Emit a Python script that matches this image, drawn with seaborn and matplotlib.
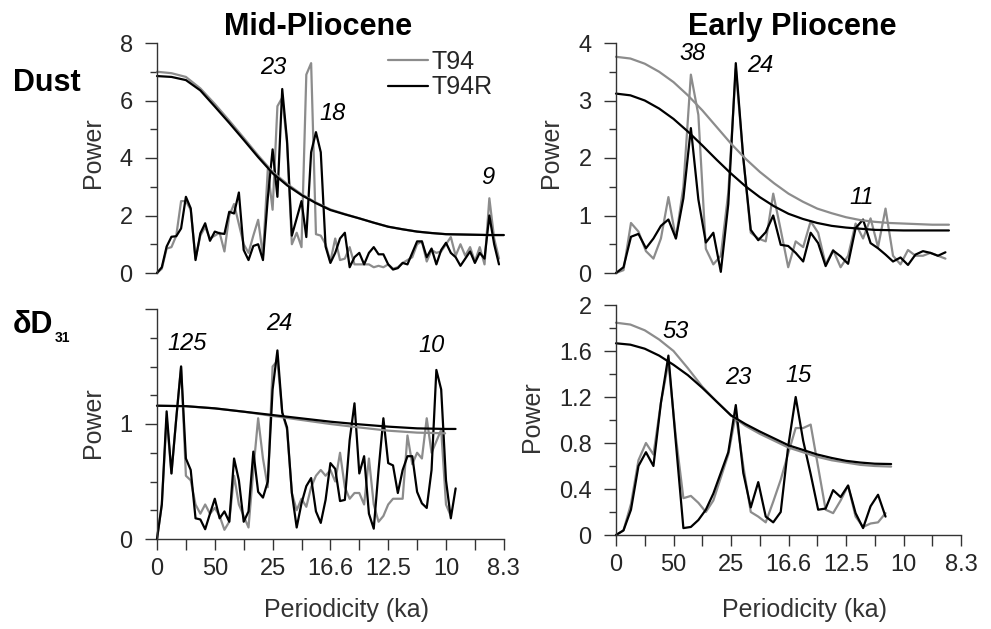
import numpy as np
import matplotlib
matplotlib.use('Agg')
import matplotlib.pyplot as plt
import seaborn as sns
from matplotlib.ticker import MultipleLocator, FixedLocator

# ---- spectra (power per frequency bin) ----
# Mid-Pliocene dust, bin width 1/600 ka^-1
mid_dust_t94 = [0.0, 0.15, 0.85, 0.9, 1.3, 2.5, 2.5, 2.2, 0.5, 1.3, 1.6, 1.2, 1.3, 1.4, 0.75,
                2.0, 2.4, 1.7, 1.0, 0.7, 1.3, 1.85, 0.6, 3.6, 2.2, 5.8, 6.1, 4.5, 1.0, 1.4,
                0.9, 6.9, 7.3, 1.35, 1.3, 1.0, 0.4, 1.2, 0.45, 0.5, 0.9, 0.3, 0.3, 0.3, 0.3,
                0.2, 0.25, 0.2, 0.3, 0.15, 0.2, 0.35, 0.45, 0.55, 1.0, 1.1, 0.4, 0.8, 0.7,
                0.75, 1.0, 1.25, 0.6, 1.0, 0.6, 0.9, 0.4, 0.9, 0.3, 2.6, 1.2, 0.5]
mid_dust_t94r = [0.0, 0.2, 0.92, 1.26, 1.28, 1.55, 2.65, 2.25, 0.45, 1.38, 1.73, 1.12, 1.44,
                 1.38, 1.36, 2.13, 2.07, 2.8, 0.8, 0.45, 0.94, 1.0, 0.45, 2.6, 4.3, 2.65, 6.4,
                 4.6, 1.3, 1.9, 2.5, 1.25, 4.2, 4.9, 4.2, 0.92, 0.35, 0.7, 1.2, 1.4, 0.2, 0.55,
                 0.7, 0.3, 0.7, 0.9, 0.65, 0.65, 0.3, 0.12, 0.17, 0.35, 0.3, 0.7, 1.1, 1.1,
                 0.55, 0.85, 0.3, 0.8, 1.05, 0.7, 0.55, 0.25, 0.5, 0.75, 0.35, 0.7, 0.5, 2.0,
                 1.0, 0.3]

# Early Pliocene dust, bin width 1/384 ka^-1
early_dust_t94 = [0.0, 0.05, 0.87, 0.72, 0.38, 0.25, 0.6, 1.32, 0.6, 1.5, 3.45, 2.75, 0.42,
                  0.15, 0.3, 1.4, 3.55, 2.0, 0.7, 0.6, 0.55, 1.38, 0.75, 0.1, 0.55, 0.45, 0.9,
                  0.7, 0.15, 0.4, 0.1, 0.3, 0.86, 0.6, 0.95, 0.45, 1.12, 0.3, 0.15, 0.4, 0.3,
                  0.3, 0.35, 0.3, 0.25]
early_dust_t94r = [0.0, 0.1, 0.63, 0.68, 0.43, 0.6, 0.82, 0.93, 0.6, 1.3, 2.52, 1.28, 0.53,
                   0.7, 0.02, 1.2, 3.65, 2.0, 0.75, 0.57, 0.71, 1.0, 0.49, 0.47, 0.35, 0.2,
                   0.7, 0.52, 0.12, 0.39, 0.29, 0.16, 0.78, 0.93, 0.52, 0.43, 0.32, 0.2, 0.27,
                   0.14, 0.32, 0.38, 0.35, 0.3, 0.36]

# Mid-Pliocene dD31, bin width 1/600 ka^-1
mid_dd_t94 = [0.0, 0.3, 1.05, 0.57, 1.05, 1.5, 0.55, 0.51, 0.3, 0.22, 0.3, 0.22, 0.27, 0.2,
              0.08, 0.15, 0.55, 0.3, 0.2, 0.1, 0.6, 1.05, 0.7, 0.45, 1.5, 1.55, 1.1, 0.95,
              0.4, 0.25, 0.35, 0.28, 0.45, 0.55, 0.6, 0.55, 0.6, 0.5, 0.75, 0.45, 0.35, 0.4,
              0.4, 0.3, 0.7, 0.3, 0.15, 0.2, 0.3, 0.35, 0.35, 0.35, 0.9, 0.65, 0.75, 0.7,
              1.05, 0.75, 0.85, 0.95, 0.3, 0.2]
mid_dd_t94r = [0.0, 0.3, 1.11, 0.57, 1.05, 1.5, 0.7, 0.6, 0.18, 0.17, 0.085, 0.22, 0.35,
               0.18, 0.24, 0.15, 0.7, 0.51, 0.15, 0.24, 0.76, 0.41, 0.36, 0.5, 1.3, 1.64,
               1.1, 0.97, 0.4, 0.1, 0.31, 0.46, 0.53, 0.24, 0.14, 0.34, 0.66, 0.61, 0.33,
               0.34, 0.86, 1.18, 0.57, 0.72, 0.22, 0.09, 0.6, 1.05, 0.66, 0.64, 0.4, 0.6,
               0.72, 0.72, 0.41, 0.31, 0.27, 0.6, 1.47, 1.3, 0.51, 0.18, 0.44]

# Early Pliocene dD31, bin width 1/384 ka^-1
early_dd_t94 = [0.0, 0.04, 0.27, 0.65, 0.8, 0.7, 1.15, 1.5, 0.85, 0.32, 0.34, 0.28, 0.2,
                0.3, 0.5, 0.7, 1.05, 0.6, 0.2, 0.16, 0.11, 0.29, 0.48, 0.71, 0.93, 0.93,
                0.96, 0.59, 0.22, 0.19, 0.3, 0.43, 0.16, 0.07, 0.1, 0.11, 0.19]
early_dd_t94r = [0.0, 0.04, 0.22, 0.6, 0.72, 0.6, 1.15, 1.56, 0.8, 0.06, 0.07, 0.13, 0.22,
                 0.36, 0.54, 0.72, 1.13, 0.54, 0.24, 0.46, 0.16, 0.11, 0.2, 0.77, 1.2, 0.82,
                 0.53, 0.22, 0.23, 0.39, 0.33, 0.43, 0.19, 0.06, 0.25, 0.35, 0.16]

# ---- red-noise confidence curves, read every 0.005 ka^-1 ----
mid_dust_cf = [0, .005, .01, .015, .02, .025, .03, .035, .04, .045, .05, .055, .06, .065,
               .07, .075, .08, .085, .09, .095, .10, .105, .11, .115, .12]
mid_dust_c94 = [7.0, 6.95, 6.82, 6.42, 5.88, 5.3, 4.7, 4.09, 3.52, 3.1, 2.74, 2.45, 2.21,
                2.05, 1.9, 1.75, 1.61, 1.52, 1.44, 1.39, 1.35, 1.34, 1.33, 1.32, 1.32]
mid_dust_c94r = [6.85, 6.82, 6.71, 6.35, 5.79, 5.22, 4.63, 4.03, 3.47, 3.05, 2.71, 2.43, 2.19,
                 2.04, 1.9, 1.75, 1.61, 1.52, 1.44, 1.39, 1.35, 1.34, 1.33, 1.32, 1.32]

early_dust_cf = [0, .005, .01, .015, .02, .025, .03, .035, .04, .045, .05, .055, .06, .065,
                 .07, .075, .08, .085, .09, .095, .10, .105, .11, .1158]
early_dust_c94 = [3.76, 3.73, 3.64, 3.5, 3.32, 3.09, 2.83, 2.54, 2.25, 1.99, 1.76, 1.56, 1.38,
                  1.24, 1.12, 1.04, 0.97, 0.92, 0.89, 0.87, 0.86, 0.85, 0.84, 0.84]
early_dust_c94r = [3.12, 3.09, 3.0, 2.86, 2.68, 2.46, 2.22, 1.97, 1.73, 1.51, 1.32, 1.16, 1.03,
                   0.94, 0.87, 0.82, 0.79, 0.77, 0.75, 0.745, 0.74, 0.74, 0.74, 0.74]

mid_dd_cf94 = [0, .01, .02, .03, .04, .05, .06, .07, .08, .09, .0997]
mid_dd_c94 = [1.159, 1.155, 1.136, 1.107, 1.07, 1.035, 1.0, 0.97, 0.942, 0.925, 0.919]
mid_dd_cf94r = [0, .01, .02, .03, .04, .05, .06, .07, .08, .09, .10, .1033]
mid_dd_c94r = [1.159, 1.155, 1.136, 1.107, 1.078, 1.049, 1.02, 0.997, 0.977, 0.962, 0.957, 0.957]

early_dd_cf = [0, .005, .01, .015, .02, .025, .03, .035, .04, .045, .05, .055, .06, .065,
               .07, .075, .08, .085, .09, .0957]
early_dd_c94 = [1.846, 1.83, 1.78, 1.70, 1.6, 1.45, 1.29, 1.16, 1.04, 0.95, 0.88, 0.82, 0.76,
                0.72, 0.68, 0.65, 0.63, 0.61, 0.60, 0.595]
early_dd_c94r = [1.667, 1.655, 1.62, 1.56, 1.48, 1.39, 1.28, 1.16, 1.04, 0.965, 0.9, 0.84,
                 0.78, 0.74, 0.70, 0.67, 0.645, 0.63, 0.62, 0.617]

period_ticks = [0, 0.02, 0.04, 0.06, 0.08, 0.10, 0.12]
period_labels = ['0', '50', '25', '16.6', '12.5', '10', '8.3']

GRAY = '#8c8c8c'
INK = '#262626'

sns.set_style('ticks')
plt.rcParams['font.family'] = ['Liberation Sans', 'DejaVu Sans']

W, H = 991, 629
fig = plt.figure(figsize=(W / 100, H / 100), dpi=100)


def axes_px(left, top, width, height):
    return fig.add_axes([left / W, 1 - (top + height) / H, width / W, height / H])


def text_px(x, y, s, **kw):
    fig.text(x / W, 1 - y / H, s, ha=kw.pop('ha', 'center'), va=kw.pop('va', 'center'), **kw)


def draw(ax, step, t94, t94r, cf94, c94, cf94r, c94r, show_legend=False):
    f94 = np.arange(len(t94)) * step
    f94r = np.arange(len(t94r)) * step
    kw = dict(estimator=None, sort=False, clip_on=False)
    sns.lineplot(x=f94, y=t94, color=GRAY, lw=1.6, ax=ax, label='T94' if show_legend else None, **kw)
    sns.lineplot(x=f94r, y=t94r, color='black', lw=1.6, ax=ax, label='T94R' if show_legend else None, **kw)
    sns.lineplot(x=cf94, y=c94, color=GRAY, lw=1.6, ax=ax, **kw)
    sns.lineplot(x=cf94r, y=c94r, color='black', lw=1.6, ax=ax, **kw)
    ax.set_xlim(0, 0.12)
    ax.set_xlabel('')
    ax.set_ylabel('')
    for s in ('top', 'right'):
        ax.spines[s].set_visible(False)
    for s in ('left', 'bottom'):
        ax.spines[s].set_color('#333333')
        ax.spines[s].set_linewidth(1.0)
    ax.tick_params(axis='y', which='major', length=8.5, width=1.0, color='#333333',
                   labelsize=17, labelcolor=INK, pad=9)
    ax.tick_params(axis='y', which='minor', length=5, width=1.0, color='#333333')
    if ax.get_legend() is not None and not show_legend:
        ax.get_legend().remove()


ax_tl = axes_px(157, 43, 346.8, 230)
ax_tr = axes_px(616, 43, 345, 230)
ax_bl = axes_px(157, 309, 346.8, 230)
ax_br = axes_px(616, 305, 345, 230)

draw(ax_tl, 1 / 600, mid_dust_t94, mid_dust_t94r, mid_dust_cf, mid_dust_c94,
     mid_dust_cf, mid_dust_c94r, show_legend=True)
draw(ax_tr, 1 / 384, early_dust_t94, early_dust_t94r, early_dust_cf, early_dust_c94,
     early_dust_cf, early_dust_c94r)
draw(ax_bl, 1 / 600, mid_dd_t94, mid_dd_t94r, mid_dd_cf94, mid_dd_c94,
     mid_dd_cf94r, mid_dd_c94r)
draw(ax_br, 1 / 384, early_dd_t94, early_dd_t94r, early_dd_cf, early_dd_c94,
     early_dd_cf, early_dd_c94r)

# y scales
ax_tl.set_ylim(0, 8)
ax_tl.yaxis.set_major_locator(MultipleLocator(2))
ax_tl.yaxis.set_minor_locator(MultipleLocator(1))
ax_tr.set_ylim(0, 4)
ax_tr.yaxis.set_major_locator(MultipleLocator(1))
ax_tr.yaxis.set_minor_locator(MultipleLocator(0.5))
ax_bl.set_ylim(0, 2)
ax_bl.yaxis.set_major_locator(FixedLocator([0, 1, 2]))
ax_bl.set_yticklabels(['0', '1', ''])
ax_bl.yaxis.set_minor_locator(MultipleLocator(0.25))
ax_br.set_ylim(0, 2)
ax_br.yaxis.set_major_locator(FixedLocator([0, 0.4, 0.8, 1.2, 1.6, 2.0]))
ax_br.set_yticklabels(['0', '0.4', '0.8', '1.2', '1.6', '2'])
ax_br.yaxis.set_minor_locator(MultipleLocator(0.2))

# x axes: hidden on top row, periodicity ticks on bottom row
for ax in (ax_tl, ax_tr):
    ax.spines['bottom'].set_visible(False)
    ax.set_xticks([])
for ax in (ax_bl, ax_br):
    ax.set_xticks(period_ticks)
    ax.set_xticklabels(period_labels)
    ax.xaxis.set_minor_locator(MultipleLocator(0.01))
    ax.tick_params(axis='x', which='both', length=8, width=1.0, color='#333333')
    ax.tick_params(axis='x', which='major', labelsize=17, labelcolor=INK, pad=6)

# legend
ax_tl.legend(loc='upper left', bbox_to_anchor=(388 / W, 1 - 50 / H), bbox_transform=fig.transFigure,
             frameon=False, fontsize=18, handlelength=1.6, handletextpad=0.15,
             labelspacing=0.05, borderpad=0, borderaxespad=0, labelcolor=INK)

# column / row titles
text_px(318, 27, 'Mid-Pliocene', fontsize=22, fontweight='bold', color='black')
text_px(792, 27, 'Early Pliocene', fontsize=22, fontweight='bold', color='black')
text_px(13, 83, 'Dust', fontsize=22, fontweight='bold', color='black', ha='left')
text_px(13, 325, 'δD', fontsize=22, fontweight='bold', color='black', ha='left')
text_px(55, 338, '31', fontsize=10, fontweight='bold', color='black', ha='left')

# axis labels
for x, y in ((93, 153), (551, 153), (93, 423), (532, 417)):
    text_px(x, y, 'Power', fontsize=18, color='#333333', rotation=90)
text_px(346, 610, 'Periodicity (ka)', fontsize=18, color='#333333')
text_px(804, 610, 'Periodicity (ka)', fontsize=18, color='#333333')

# peak periods
peaks = [(273, 68, '23'), (333, 113, '18'), (488, 177, '9'),
         (693, 53, '38'), (760, 65, '24'), (862, 198, '11'),
         (187, 343, '125'), (279, 323, '24'), (432, 345, '10'),
         (676, 332, '53'), (738, 378, '23'), (799, 375, '15')]
for x, y, s in peaks:
    text_px(x, y, s, fontsize=17, fontstyle='italic', color='black')

fig.savefig('out.png', dpi=100)
